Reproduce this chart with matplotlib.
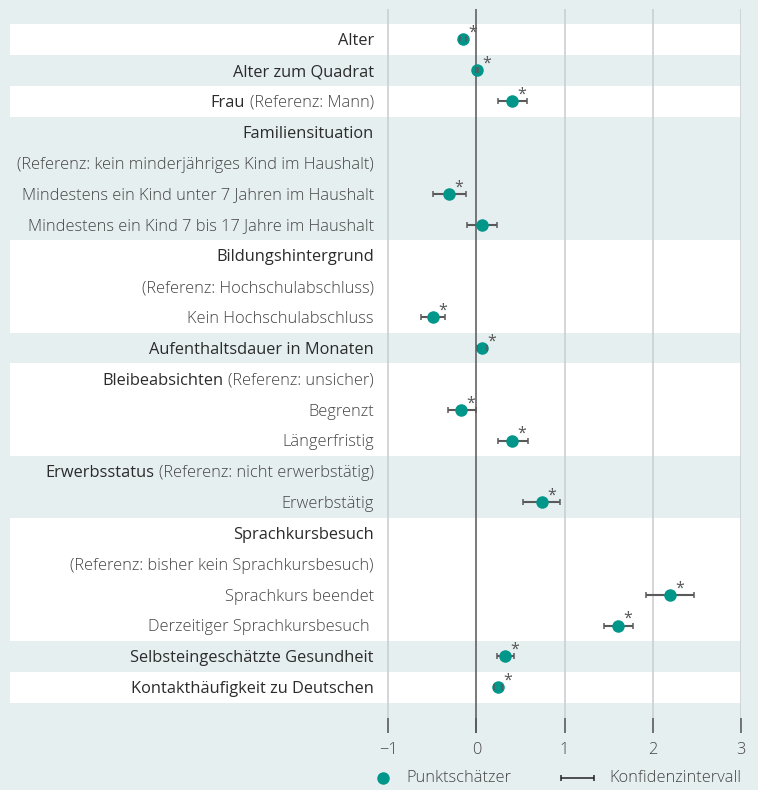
import numpy as np
import matplotlib
matplotlib.use('Agg')
from matplotlib import pyplot as plt

plt.rcParams['font.family'] = ['Open Sans', 'DejaVu Sans']

nan = np.nan

# row labels: dark heading part, grey sub part
main_txt = ['Alter', 'Alter zum Quadrat', 'Frau', 'Familiensituation', '', '', '',
            'Bildungshintergrund', '', '', 'Aufenthaltsdauer in Monaten',
            'Bleibeabsichten', '', '', 'Erwerbsstatus', '', 'Sprachkursbesuch', '', '', '',
            'Selbsteingeschätzte Gesundheit', 'Kontakthäufigkeit zu Deutschen']
sub_txt = ['', '', '(Referenz: Mann)', '',
           '(Referenz: kein minderjähriges Kind im Haushalt)',
           'Mindestens ein Kind unter 7 Jahren im Haushalt',
           'Mindestens ein Kind 7 bis 17 Jahre im Haushalt',
           '', '(Referenz: Hochschulabschluss)', 'Kein Hochschulabschluss', '',
           '(Referenz: unsicher)', 'Begrenzt', 'Längerfristig',
           '(Referenz: nicht erwerbstätig)', 'Erwerbstätig', '',
           '(Referenz: bisher kein Sprachkursbesuch)', 'Sprachkurs beendet',
           'Derzeitiger Sprachkursbesuch ', '', '']
white_row = [1, 0, 1, 0, 0, 0, 0, 1, 1, 1, 0, 1, 1, 1, 0, 0, 1, 1, 1, 1, 0, 1]

est = [-0.155, 0.01, 0.41, nan, nan, -0.305, 0.064, nan, nan, -0.487, 0.06, nan,
       -0.17, 0.41, nan, 0.743, nan, nan, 2.19, 1.608, 0.328, 0.245]
ci_lo = [-0.19, 0.0, 0.245, nan, nan, -0.49, -0.10, nan, nan, -0.627, 0.007, nan,
         -0.317, 0.245, nan, 0.528, nan, nan, 1.925, 1.45, 0.233, 0.20]
ci_hi = [-0.115, 0.02, 0.573, nan, nan, -0.118, 0.233, nan, nan, -0.351, 0.12, nan,
         0.0, 0.585, nan, 0.947, nan, nan, 2.465, 1.778, 0.426, 0.29]
signif = [1, 1, 1, 0, 0, 1, 0, 0, 0, 1, 1, 0, 1, 1, 0, 1, 0, 0, 1, 1, 1, 1]

xticks = [-1, 0, 1, 2, 3]
xticklabels = ['\u22121', '0', '1', '2', '3']

bg = '#e6eff0'
teal = '#00968a'
dark = '#2b2b2b'
grey = '#444444'
fs = 11.8

fig = plt.figure(figsize=(7.58, 7.90), dpi=100, facecolor=bg)
ax = fig.add_axes([10/758, 57/790, 731/758, 724/790])
ax.set_facecolor(bg)
ax.set_xlim(-5.285, 3)
ax.set_ylim(22.48, -0.986)

rows = np.arange(len(main_txt))
for r, w in zip(rows, white_row):
    if w:
        ax.axhspan(r - 0.5, r + 0.5, color='white', lw=0, zorder=0)

for x in xticks:
    if x != 0:
        ax.axvline(x, color='#cbd0d2', lw=1.2, zorder=1)
ax.axvline(0, color='#555555', lw=1.1, zorder=2)

est = np.array(est)
ci_lo = np.array(ci_lo)
ci_hi = np.array(ci_hi)
ok = ~np.isnan(est)
y = rows[ok]
e = est[ok]
xerr = [e - ci_lo[ok], ci_hi[ok] - e]

ax.plot(e, y, 'o', color=teal, ms=9, mec='none', zorder=4)
ebl = ax.errorbar(e, y, xerr=xerr, fmt='none', ecolor='#5a5a5a', elinewidth=1.5,
                  capsize=2.2, capthick=1.1, zorder=3)
for cap in ebl[1]:
    cap.set_color('#222222')
    cap.set_zorder(5)

for r in rows:
    if signif[r]:
        ax.annotate('*', (est[r], r), xytext=(7, 1.8), textcoords='offset points',
                    ha='center', va='baseline', fontsize=11.5, color='#555555', zorder=6)

# labels
lab_x = -1.16
for r in rows:
    m, s = main_txt[r], sub_txt[r]
    if s:
        t = ax.text(lab_x, r + 0.06, s, ha='right', va='center', fontsize=fs,
                    color=grey, fontweight='light')
        if m:
            ax.annotate(m, xy=(0, 0.5), xycoords=t, xytext=(-3.5, 0),
                        textcoords='offset points', ha='right', va='center',
                        fontsize=fs, color=dark)
    else:
        ax.text(lab_x, r + 0.06, m, ha='right', va='center', fontsize=fs, color=dark)

ax.set_xticks(xticks)
ax.set_xticklabels(xticklabels)
ax.set_yticks([])
ax.tick_params(axis='x', direction='in', length=10.8, width=1.1, color='#555555',
               labelsize=fs, labelcolor=grey, pad=6.5)
for lbl in ax.get_xticklabels():
    lbl.set_fontweight('light')
for sp in ax.spines.values():
    sp.set_visible(False)

# legend drawn in pixel space
lg = fig.add_axes([0, 0, 1, 1])
lg.set_xlim(0, 758)
lg.set_ylim(790, 0)
lg.axis('off')
lg.plot([383], [778], 'o', color=teal, ms=9, mec='none')
lg.text(406, 778, 'Punktschätzer', va='center', ha='left', fontsize=fs,
        color=grey, fontweight='light')
lg.errorbar([577], [778], xerr=[[16.5], [16.5]], fmt='none', ecolor='#222222',
            elinewidth=1.1, capsize=2.2, capthick=1.1)
lg.text(609, 778, 'Konfidenzintervall', va='center', ha='left', fontsize=fs,
        color=grey, fontweight='light')

fig.savefig('out.png', dpi=100, facecolor=bg)
